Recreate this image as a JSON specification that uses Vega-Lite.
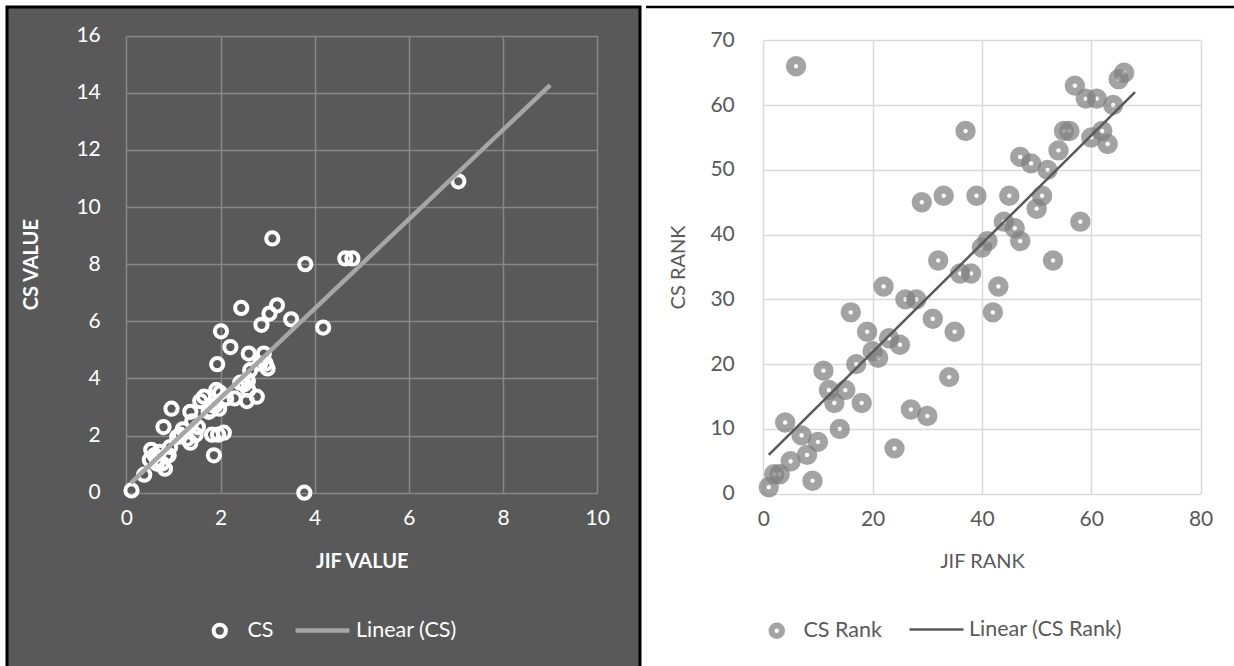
{
  "$schema": "https://vega.github.io/schema/vega-lite/v6.json",
  "padding": {"left": 5, "top": 5, "right": 0, "bottom": 0},
  "background": "white",
  "spacing": 2,
  "resolve": {"scale": {"color": "independent", "stroke": "independent"}, "legend": {"color": "independent", "stroke": "independent"}},
  "config": {
    "font": "Lato",
    "axis": {"labelFont": "Lato", "titleFont": "Lato", "labelFlush": false, "labelOverlap": false, "domain": false, "ticks": false},
    "legend": {"labelFont": "Lato"}
  },
  "hconcat": [
    {
      "width": 633,
      "height": 661,
      "view": {"fill": "#595959", "stroke": "#000000", "strokeWidth": 3},
      "resolve": {"axis": {"x": "independent"}},
      "layer": [
        {
          "data": {"values": [
            {"jif": 7.05, "cs": 10.9, "series": "CS"},
            {"jif": 4.8, "cs": 8.2, "series": "CS"},
            {"jif": 4.65, "cs": 8.2, "series": "CS"},
            {"jif": 4.18, "cs": 5.78, "series": "CS"},
            {"jif": 3.8, "cs": 8.0, "series": "CS"},
            {"jif": 3.78, "cs": 0.0, "series": "CS"},
            {"jif": 3.5, "cs": 6.07, "series": "CS"},
            {"jif": 3.2, "cs": 6.56, "series": "CS"},
            {"jif": 3.1, "cs": 8.9, "series": "CS"},
            {"jif": 3.04, "cs": 6.27, "series": "CS"},
            {"jif": 3.0, "cs": 4.35, "series": "CS"},
            {"jif": 2.96, "cs": 4.52, "series": "CS"},
            {"jif": 2.92, "cs": 4.87, "series": "CS"},
            {"jif": 2.87, "cs": 5.88, "series": "CS"},
            {"jif": 2.84, "cs": 4.52, "series": "CS"},
            {"jif": 2.77, "cs": 3.36, "series": "CS"},
            {"jif": 2.63, "cs": 4.29, "series": "CS"},
            {"jif": 2.6, "cs": 4.87, "series": "CS"},
            {"jif": 2.59, "cs": 3.6, "series": "CS"},
            {"jif": 2.58, "cs": 3.9, "series": "CS"},
            {"jif": 2.57, "cs": 3.95, "series": "CS"},
            {"jif": 2.56, "cs": 3.21, "series": "CS"},
            {"jif": 2.5, "cs": 3.8, "series": "CS"},
            {"jif": 2.44, "cs": 6.47, "series": "CS"},
            {"jif": 2.42, "cs": 3.85, "series": "CS"},
            {"jif": 2.3, "cs": 3.3, "series": "CS"},
            {"jif": 2.21, "cs": 5.1, "series": "CS"},
            {"jif": 2.12, "cs": 3.3, "series": "CS"},
            {"jif": 2.07, "cs": 2.1, "series": "CS"},
            {"jif": 2.01, "cs": 5.65, "series": "CS"},
            {"jif": 1.99, "cs": 3.5, "series": "CS"},
            {"jif": 1.97, "cs": 2.94, "series": "CS"},
            {"jif": 1.95, "cs": 2.03, "series": "CS"},
            {"jif": 1.93, "cs": 4.5, "series": "CS"},
            {"jif": 1.91, "cs": 3.6, "series": "CS"},
            {"jif": 1.89, "cs": 3.06, "series": "CS"},
            {"jif": 1.86, "cs": 1.31, "series": "CS"},
            {"jif": 1.84, "cs": 3.06, "series": "CS"},
            {"jif": 1.82, "cs": 2.03, "series": "CS"},
            {"jif": 1.78, "cs": 2.88, "series": "CS"},
            {"jif": 1.75, "cs": 2.83, "series": "CS"},
            {"jif": 1.65, "cs": 3.36, "series": "CS"},
            {"jif": 1.57, "cs": 3.21, "series": "CS"},
            {"jif": 1.52, "cs": 2.3, "series": "CS"},
            {"jif": 1.47, "cs": 2.03, "series": "CS"},
            {"jif": 1.4, "cs": 2.5, "series": "CS"},
            {"jif": 1.36, "cs": 2.83, "series": "CS"},
            {"jif": 1.36, "cs": 1.75, "series": "CS"},
            {"jif": 1.29, "cs": 1.89, "series": "CS"},
            {"jif": 1.2, "cs": 2.22, "series": "CS"},
            {"jif": 1.14, "cs": 2.03, "series": "CS"},
            {"jif": 1.08, "cs": 1.95, "series": "CS"},
            {"jif": 0.96, "cs": 2.94, "series": "CS"},
            {"jif": 0.93, "cs": 1.6, "series": "CS"},
            {"jif": 0.9, "cs": 1.31, "series": "CS"},
            {"jif": 0.86, "cs": 1.31, "series": "CS"},
            {"jif": 0.82, "cs": 0.84, "series": "CS"},
            {"jif": 0.79, "cs": 2.3, "series": "CS"},
            {"jif": 0.76, "cs": 1.02, "series": "CS"},
            {"jif": 0.7, "cs": 1.43, "series": "CS"},
            {"jif": 0.65, "cs": 1.02, "series": "CS"},
            {"jif": 0.6, "cs": 1.31, "series": "CS"},
            {"jif": 0.53, "cs": 1.5, "series": "CS"},
            {"jif": 0.5, "cs": 1.15, "series": "CS"},
            {"jif": 0.38, "cs": 0.63, "series": "CS"},
            {"jif": 0.11, "cs": 0.08, "series": "CS"}
          ]},
          "mark": {"type": "point", "filled": false, "strokeWidth": 4, "size": 150, "opacity": 1},
          "encoding": {
            "x": {"field": "jif", "type": "quantitative",
              "scale": {"domain": [0, 10], "range": [119.3, 590.3], "nice": false, "zero": false},
              "axis": {"orient": "top", "values": [0, 2, 4, 6, 8, 10], "grid": true, "gridColor": "#888888", "gridWidth": 1.5,
                "labels": false, "title": null, "offset": 0}},
            "y": {"field": "cs", "type": "quantitative",
              "scale": {"domain": [0, 16], "range": [485.7, 28.7], "nice": false, "zero": false},
              "axis": {"values": [0, 2, 4, 6, 8, 10, 12, 14, 16], "grid": true, "gridColor": "#888888", "gridWidth": 1.5, "format": "d",
                "labelColor": "#ffffff", "labelFontSize": 21, "labelPadding": 26, "offset": -119.3,
                "title": "CS VALUE", "titleColor": "#ffffff", "titleFontSize": 20, "titleFontWeight": "bold", "titlePadding": 34}},
            "color": {"field": "series", "type": "nominal",
              "scale": {"domain": ["CS"], "range": ["#ffffff"]},
              "legend": {"orient": "none", "legendX": 202, "legendY": 613, "title": null, "labelColor": "#ffffff", "labelFontSize": 21.5,
                "symbolStrokeWidth": 4, "symbolSize": 150, "symbolType": "circle", "labelOffset": 17}}
          }
        },
        {
          "data": {"values": [
            {"jif": 0.1, "cs": 0.34, "series": "Linear (CS)"},
            {"jif": 9.0, "cs": 14.27, "series": "Linear (CS)"}
          ]},
          "mark": {"type": "line", "strokeWidth": 4.5},
          "encoding": {
            "x": {"field": "jif", "type": "quantitative",
              "axis": {"orient": "bottom", "values": [0, 2, 4, 6, 8, 10], "grid": false, "format": "d",
                "labelColor": "#ffffff", "labelFontSize": 21, "labelPadding": 15, "offset": -175.3,
                "title": "JIF VALUE", "titleColor": "#ffffff", "titleFontSize": 20, "titleFontWeight": "bold", "titlePadding": 23}},
            "y": {"field": "cs", "type": "quantitative"},
            "stroke": {"field": "series", "type": "nominal",
              "scale": {"domain": ["Linear (CS)"], "range": ["#a6a6a6"]},
              "legend": {"orient": "none", "legendX": 286, "legendY": 594, "title": null, "labelColor": "#ffffff", "labelFontSize": 21.5,
                "symbolStrokeWidth": 4.5, "symbolSize": 2916, "labelOffset": 4}}
          }
        }
      ]
    },
    {
      "width": 594,
      "height": 661,
      "view": {"fill": "#ffffff", "stroke": "#000000", "strokeWidth": 2.5, "strokeDash": [594, 1916]},
      "resolve": {"axis": {"x": "independent"}},
      "layer": [
        {
          "data": {"values": [
            {"jr": 1, "cr": 1, "series": "CS Rank"},
            {"jr": 2, "cr": 3, "series": "CS Rank"},
            {"jr": 3, "cr": 3, "series": "CS Rank"},
            {"jr": 5, "cr": 5, "series": "CS Rank"},
            {"jr": 4, "cr": 11, "series": "CS Rank"},
            {"jr": 7, "cr": 9, "series": "CS Rank"},
            {"jr": 8, "cr": 6, "series": "CS Rank"},
            {"jr": 9, "cr": 2, "series": "CS Rank"},
            {"jr": 10, "cr": 8, "series": "CS Rank"},
            {"jr": 11, "cr": 19, "series": "CS Rank"},
            {"jr": 12, "cr": 16, "series": "CS Rank"},
            {"jr": 13, "cr": 14, "series": "CS Rank"},
            {"jr": 14, "cr": 10, "series": "CS Rank"},
            {"jr": 15, "cr": 16, "series": "CS Rank"},
            {"jr": 16, "cr": 28, "series": "CS Rank"},
            {"jr": 17, "cr": 20, "series": "CS Rank"},
            {"jr": 18, "cr": 14, "series": "CS Rank"},
            {"jr": 19, "cr": 25, "series": "CS Rank"},
            {"jr": 20, "cr": 22, "series": "CS Rank"},
            {"jr": 21, "cr": 21, "series": "CS Rank"},
            {"jr": 22, "cr": 32, "series": "CS Rank"},
            {"jr": 23, "cr": 24, "series": "CS Rank"},
            {"jr": 25, "cr": 23, "series": "CS Rank"},
            {"jr": 24, "cr": 7, "series": "CS Rank"},
            {"jr": 26, "cr": 30, "series": "CS Rank"},
            {"jr": 28, "cr": 30, "series": "CS Rank"},
            {"jr": 27, "cr": 13, "series": "CS Rank"},
            {"jr": 30, "cr": 12, "series": "CS Rank"},
            {"jr": 31, "cr": 27, "series": "CS Rank"},
            {"jr": 34, "cr": 18, "series": "CS Rank"},
            {"jr": 35, "cr": 25, "series": "CS Rank"},
            {"jr": 32, "cr": 36, "series": "CS Rank"},
            {"jr": 36, "cr": 34, "series": "CS Rank"},
            {"jr": 38, "cr": 34, "series": "CS Rank"},
            {"jr": 29, "cr": 45, "series": "CS Rank"},
            {"jr": 33, "cr": 46, "series": "CS Rank"},
            {"jr": 37, "cr": 56, "series": "CS Rank"},
            {"jr": 39, "cr": 46, "series": "CS Rank"},
            {"jr": 6, "cr": 66, "series": "CS Rank"},
            {"jr": 40, "cr": 38, "series": "CS Rank"},
            {"jr": 41, "cr": 39, "series": "CS Rank"},
            {"jr": 42, "cr": 28, "series": "CS Rank"},
            {"jr": 43, "cr": 32, "series": "CS Rank"},
            {"jr": 44, "cr": 42, "series": "CS Rank"},
            {"jr": 45, "cr": 46, "series": "CS Rank"},
            {"jr": 46, "cr": 41, "series": "CS Rank"},
            {"jr": 47, "cr": 39, "series": "CS Rank"},
            {"jr": 47, "cr": 52, "series": "CS Rank"},
            {"jr": 49, "cr": 51, "series": "CS Rank"},
            {"jr": 50, "cr": 44, "series": "CS Rank"},
            {"jr": 51, "cr": 46, "series": "CS Rank"},
            {"jr": 52, "cr": 50, "series": "CS Rank"},
            {"jr": 53, "cr": 36, "series": "CS Rank"},
            {"jr": 54, "cr": 53, "series": "CS Rank"},
            {"jr": 55, "cr": 56, "series": "CS Rank"},
            {"jr": 56, "cr": 56, "series": "CS Rank"},
            {"jr": 57, "cr": 63, "series": "CS Rank"},
            {"jr": 58, "cr": 42, "series": "CS Rank"},
            {"jr": 59, "cr": 61, "series": "CS Rank"},
            {"jr": 61, "cr": 61, "series": "CS Rank"},
            {"jr": 60, "cr": 55, "series": "CS Rank"},
            {"jr": 62, "cr": 56, "series": "CS Rank"},
            {"jr": 63, "cr": 54, "series": "CS Rank"},
            {"jr": 64, "cr": 60, "series": "CS Rank"},
            {"jr": 65, "cr": 64, "series": "CS Rank"},
            {"jr": 66, "cr": 65, "series": "CS Rank"}
          ]},
          "mark": {"type": "point", "filled": false, "strokeWidth": 8, "size": 154, "opacity": 0.72},
          "encoding": {
            "x": {"field": "jr", "type": "quantitative",
              "scale": {"domain": [0, 80], "range": [117.3, 554.6], "nice": false, "zero": false},
              "axis": {"orient": "top", "values": [0, 20, 40, 60, 80], "grid": true, "gridColor": "#d9d9d9", "gridWidth": 1.5,
                "labels": false, "title": null, "offset": 0}},
            "y": {"field": "cr", "type": "quantitative",
              "scale": {"domain": [0, 70], "range": [486.7, 33.3], "nice": false, "zero": false},
              "axis": {"values": [0, 10, 20, 30, 40, 50, 60, 70], "grid": true, "gridColor": "#d9d9d9", "gridWidth": 1.5, "format": "d",
                "labelColor": "#595959", "labelFontSize": 21, "labelPadding": 29, "offset": -117.3,
                "title": "CS RANK", "titleColor": "#595959", "titleFontSize": 20, "titleFontWeight": "normal", "titlePadding": 21}},
            "color": {"field": "series", "type": "nominal",
              "scale": {"domain": ["CS Rank"], "range": ["#808080"]},
              "legend": {"orient": "none", "legendX": 120, "legendY": 613, "title": null, "labelColor": "#595959", "labelFontSize": 21.5,
                "symbolStrokeWidth": 6, "symbolSize": 110, "symbolType": "circle", "symbolOpacity": 0.72, "labelOffset": 16}}
          }
        },
        {
          "data": {"values": [
            {"jr": 1, "cr": 6.0, "series": "Linear (CS Rank)"},
            {"jr": 68, "cr": 62.0, "series": "Linear (CS Rank)"}
          ]},
          "mark": {"type": "line", "strokeWidth": 2.5},
          "encoding": {
            "x": {"field": "jr", "type": "quantitative",
              "axis": {"orient": "bottom", "values": [0, 20, 40, 60, 80], "grid": false, "format": "d",
                "labelColor": "#595959", "labelFontSize": 21, "labelPadding": 15, "offset": -174.3,
                "title": "JIF RANK", "titleColor": "#595959", "titleFontSize": 20, "titleFontWeight": "normal", "titlePadding": 22}},
            "y": {"field": "cr", "type": "quantitative"},
            "stroke": {"field": "series", "type": "nominal",
              "scale": {"domain": ["Linear (CS Rank)"], "range": ["#595959"]},
              "legend": {"orient": "none", "legendX": 262, "legendY": 594, "title": null, "labelColor": "#595959", "labelFontSize": 21.5,
                "symbolStrokeWidth": 2.5, "symbolSize": 2916, "labelOffset": 4}}
          }
        }
      ]
    }
  ]
}
